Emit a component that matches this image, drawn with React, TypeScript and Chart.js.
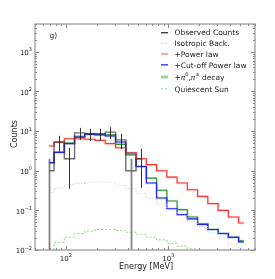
import React, { useEffect, useRef } from "react";
import { Chart, registerables } from "chart.js";
Chart.register(...registerables);

// Energy of each bin (MeV)
const energies = [68.4, 86.1, 108.4, 136.5, 171.8, 216.3, 272.3, 342.8, 431.5, 543.3, 683.9, 861.0, 1084, 1365, 1718, 2163, 2723, 3428, 4316, 5433];
// Observed counts and error limits
const observed = [1.0, 5.3, 2.0, 9.0, 8.5, 8.5, 9.4, 6.0, 1.0, 2.0];
const obsLow = [0, 3.0, 0.35, 6.0, 5.6, 5.6, 6.3, 3.5, 0, 0.37];
const obsHigh = [2.0, 7.6, 3.8, 12.0, 11.4, 11.4, 12.5, 8.5, 2.0, 3.6];
// Models
const isotropic = [0.28, 0.36, 0.44, 0.48, 0.51, 0.52, 0.51, 0.43, 0.36, 0.27, 0.2, 0.145, 0.105, 0.075, 0.054, 0.039, 0.028, 0.02, 0.014, 0.01];
const powerLaw = [4.2, 5.2, 6.4, 6.4, 6.2, 5.8, 4.8, 3.8, 2.8, 2.0, 1.42, 1.0, 0.69, 0.49, 0.33, 0.225, 0.148, 0.1, 0.068, 0.048];
const cutoffPL = [1.6, 2.9, 4.8, 7.0, 8.2, 8.0, 7.5, 5.3, 2.8, 1.28, 0.49, 0.205, 0.11, 0.078, 0.061, 0.044, 0.033, 0.026, 0.021, 0.016];
const pionDecay = [1.6, 2.9, 5.0, 7.4, 8.6, 8.4, 8.0, 4.6, 2.5, 1.28, 0.65, 0.32, 0.172, 0.104, 0.068, 0.046, 0.033, 0.026, 0.021, 0.017];
const quiescent = [0.0105, 0.0155, 0.021, 0.026, 0.03, 0.033, 0.033, 0.031, 0.028, 0.025, 0.021, 0.018, 0.0147, 0.0124, 0.0107, 0.009, 0.0075, 0.0063, 0.005, 0.004];

// Axis ticks
const xMajor = [100, 1000];
const xExp = ["2", "3"];
const yMajor = [0.01, 0.1, 1, 10, 100, 1000];
const yExp = ["\u22122", "\u22121", "0", "1", "2", "3"];

const legendLabels = ["Observed Counts", "Isotropic Back.", "+Power law", "+Cut-off Power law", "PION", "Quiescent Sun"];

const FONT = '"DejaVu Sans", sans-serif';

function drawPow(ctx: CanvasRenderingContext2D, exp: string, x: number, base: number, align: string) {
  ctx.font = `7px ${FONT}`;
  const wb = ctx.measureText("10").width;
  ctx.font = `5px ${FONT}`;
  const ws = ctx.measureText(exp).width;
  const total = wb + ws;
  const x0 = align === "center" ? x - total / 2 : x - total;
  ctx.textAlign = "left";
  ctx.textBaseline = "alphabetic";
  ctx.font = `7px ${FONT}`;
  ctx.fillText("10", x0, base);
  ctx.font = `5px ${FONT}`;
  ctx.fillText(exp, x0 + wb, base - 3.6);
}

const decor = {
  id: "decor",
  afterDatasetsDraw(chart: any) {
    const { ctx, chartArea: a, scales } = chart;
    const xs = scales.x, ys = scales.y;
    // error bars
    ctx.save();
    ctx.beginPath();
    ctx.rect(a.left, a.top, a.right - a.left, a.bottom - a.top);
    ctx.clip();
    observed.forEach((v, i) => {
      const x = xs.getPixelForValue(energies[i]);
      const lo = obsLow[i] > 0 ? ys.getPixelForValue(obsLow[i]) : a.bottom + 5;
      const hi = ys.getPixelForValue(obsHigh[i]);
      ctx.beginPath();
      if (obsLow[i] > 0) {
        ctx.strokeStyle = "rgba(20,20,20,0.85)";
        ctx.lineWidth = 1;
      } else {
        ctx.strokeStyle = "rgba(100,100,100,0.8)";
        ctx.lineWidth = 1.8;
      }
      ctx.moveTo(Math.round(x) + 0.5, lo);
      ctx.lineTo(Math.round(x) + 0.5, hi);
      ctx.stroke();
    });
    ctx.restore();

    // frame
    ctx.save();
    ctx.strokeStyle = "#a8a8a8";
    ctx.lineWidth = 1.5;
    ctx.strokeRect(a.left, a.top, a.right - a.left, a.bottom - a.top);

    // ticks (inside)
    ctx.strokeStyle = "#8a8a8a";
    ctx.lineWidth = 1;
    const tick = (x1: number, y1: number, x2: number, y2: number) => {
      ctx.beginPath();
      ctx.moveTo(x1, y1);
      ctx.lineTo(x2, y2);
      ctx.stroke();
    };
    for (let d = 10; d <= 10000; d *= 10) {
      for (let m = 1; m <= 9; m++) {
        const v = m * d;
        if (v < xs.min || v > xs.max) continue;
        const px = Math.round(xs.getPixelForValue(v)) + 0.5;
        const len = m === 1 ? 4 : 2;
        tick(px, a.bottom, px, a.bottom - len);
        tick(px, a.top, px, a.top + len);
      }
    }
    for (let d = 0.01; d <= 1000; d *= 10) {
      for (let m = 1; m <= 9; m++) {
        const v = m * d;
        if (v < ys.min * 0.999 || v > ys.max) continue;
        const py = Math.round(ys.getPixelForValue(v)) + 0.5;
        const len = m === 1 ? 4 : 2;
        tick(a.left, py, a.left + len, py);
        tick(a.right, py, a.right - len, py);
      }
    }

    // tick labels
    ctx.fillStyle = "#222";
    xMajor.forEach((v, i) => {
      drawPow(ctx, xExp[i], xs.getPixelForValue(v), 261, "center");
    });
    yMajor.forEach((v, i) => {
      drawPow(ctx, yExp[i], 32, ys.getPixelForValue(v) + 3.2, "right");
    });

    // axis titles
    ctx.font = `8px ${FONT}`;
    ctx.textAlign = "center";
    ctx.textBaseline = "alphabetic";
    ctx.fillText("Energy [MeV]", (a.left + a.right) / 2 + 1, 269);
    ctx.save();
    ctx.translate(16.5, 134);
    ctx.rotate(-Math.PI / 2);
    ctx.fillText("Counts", 0, 0);
    ctx.restore();

    // panel label
    ctx.font = `7.5px ${FONT}`;
    ctx.textAlign = "left";
    ctx.fillText("g)", 49.5, 38);

    // legend
    const rows = [32.7, 43.3, 54, 64.8, 77, 88.8];
    const sx1 = 161, sx2 = 168, tx = 174.5;
    const styles = [
      { c: "#333", w: 1.3, d: [] as number[] },
      { c: "#d4d4d4", w: 1.2, d: [1, 1.5] },
      { c: "rgba(255,80,80,0.75)", w: 1.4, d: [] },
      { c: "#2a2aff", w: 1.3, d: [] },
      { c: "rgba(90,185,90,0.6)", w: 3, d: [] },
      { c: "#8fcf8f", w: 1, d: [2, 2] },
    ];
    styles.forEach((s, i) => {
      ctx.save();
      ctx.strokeStyle = s.c;
      ctx.lineWidth = s.w;
      ctx.setLineDash(s.d);
      ctx.beginPath();
      ctx.moveTo(sx1, rows[i]);
      ctx.lineTo(sx2, rows[i]);
      ctx.stroke();
      ctx.restore();
    });
    ctx.fillStyle = "#222";
    ctx.textAlign = "left";
    legendLabels.forEach((t, i) => {
      const base = rows[i] + 2.7;
      if (t !== "PION") {
        ctx.font = `7.5px ${FONT}`;
        ctx.fillText(t, tx, base);
        return;
      }
      let x = tx;
      const part = (s: string, font: string, dy: number) => {
        ctx.font = font;
        ctx.fillText(s, x, base + dy);
        x += ctx.measureText(s).width;
      };
      part("+", `7.5px ${FONT}`, 0);
      part("\u03C0", `italic 7.5px ${FONT}`, 0);
      part("0", `5px ${FONT}`, -3.6);
      part(",", `7.5px ${FONT}`, 0);
      part("\u03C0", `italic 7.5px ${FONT}`, 0);
      part("\u00B1", `5px ${FONT}`, -3.6);
      part(" decay", `7.5px ${FONT}`, 0);
    });
    ctx.restore();
  },
};

function series(vals: number[]) {
  return vals.map((y, i) => ({ x: energies[i], y }));
}

export default function App() {
  const ref = useRef<HTMLCanvasElement>(null);
  useEffect(() => {
    const line = (vals: number[], color: string, width: number, dash: number[] = []) => ({
      data: series(vals),
      stepped: "middle" as const,
      borderColor: color,
      borderWidth: width,
      borderDash: dash,
      pointRadius: 0,
      fill: false,
      tension: 0,
    });
    const chart = new Chart(ref.current!, {
      type: "line",
      data: {
        datasets: [
          line(observed, "rgba(50,50,50,0.7)", 1.4),
          line(isotropic, "#d2d2d2", 1.1, [1, 1.6]),
          line(powerLaw, "rgba(255,60,60,0.18)", 2.4),
          line(powerLaw, "#ff3030", 1.1),
          line(cutoffPL, "rgba(40,40,255,0.18)", 2.4),
          line(cutoffPL, "#2020f0", 1.1),
          line(pionDecay, "rgba(40,160,40,0.2)", 2.4),
          line(pionDecay, "#2a9a2a", 1.1),
          line(quiescent, "#94d494", 1, [2, 2]),
        ],
      },
      options: {
        responsive: false,
        animation: false,
        layout: { padding: { left: 35, right: 20, top: 24, bottom: 29 } },
        plugins: { legend: { display: false }, tooltip: { enabled: false }, title: { display: false } },
        scales: {
          x: { type: "logarithmic", min: 50, max: 7000, display: false },
          y: { type: "logarithmic", min: 0.01, max: 5000, display: false },
        },
      },
      plugins: [decor],
    });
    return () => chart.destroy();
  }, []);
  return (
    <div style={{ position: "absolute", left: 0, top: 0, width: 275, height: 279, background: "#fff" }}>
      <canvas ref={ref} width={275} height={279} />
    </div>
  );
}
